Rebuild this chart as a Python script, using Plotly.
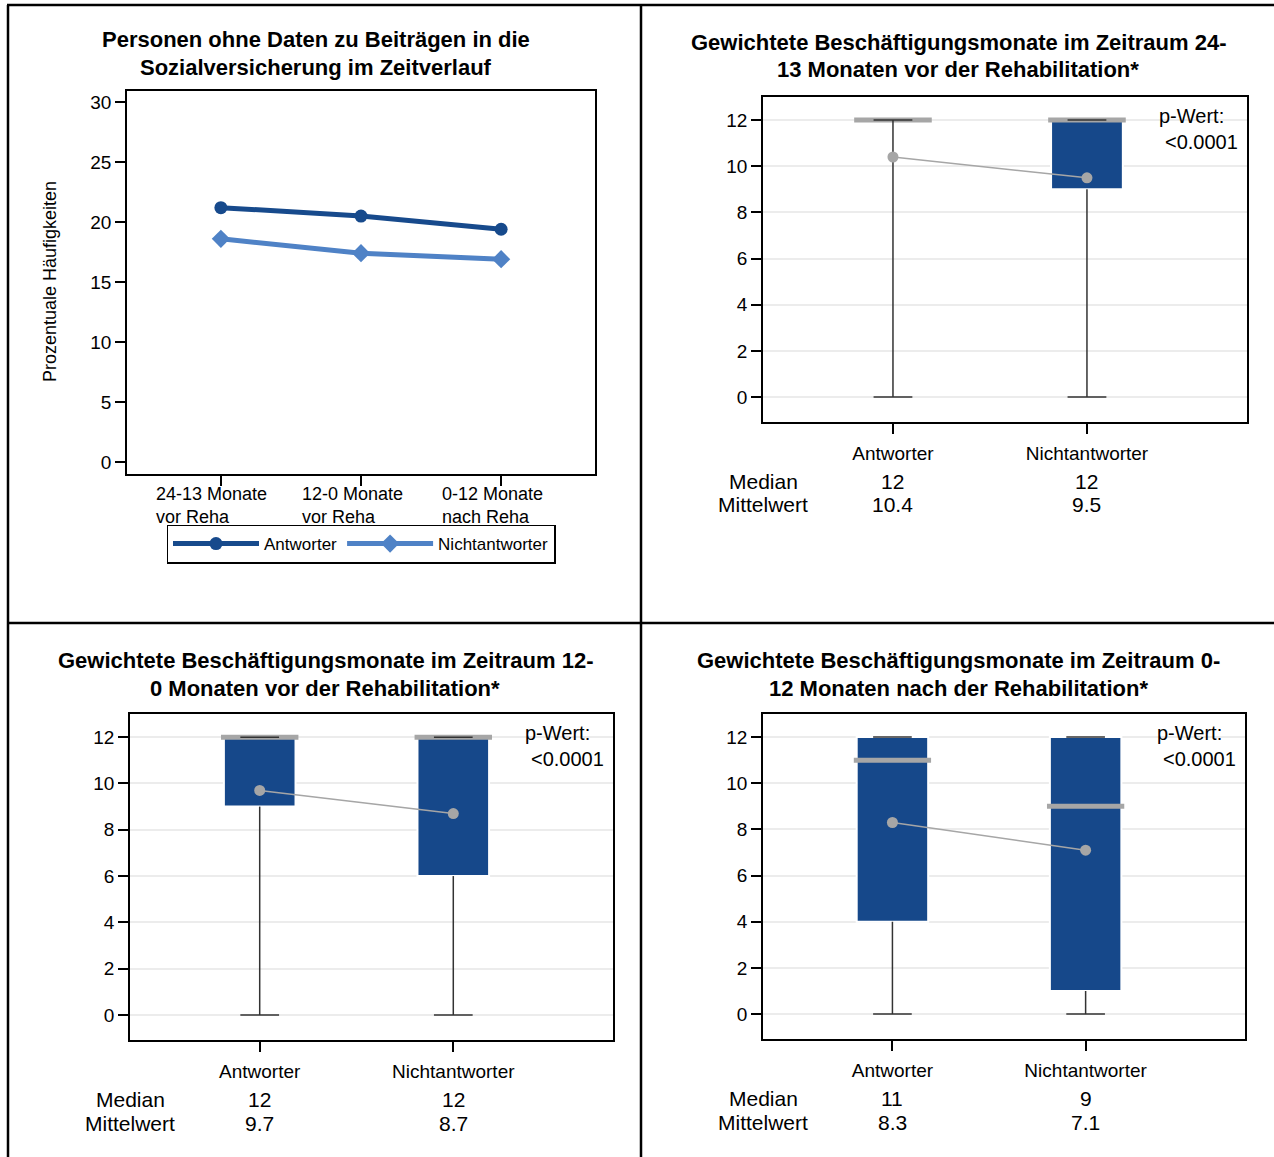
import plotly.graph_objects as go

W, H = 1274, 1157

# ---- line chart: share of persons without contribution data ----
zeitraum = ["24-13 Monate<br>vor Reha", "12-0 Monate<br>vor Reha", "0-12 Monate<br>nach Reha"]
antworter_pct = [21.2, 20.5, 19.4]
nichtantworter_pct = [18.6, 17.4, 16.9]
y_ticks_pct = [0, 5, 10, 15, 20, 25, 30]

# ---- box plots: weighted months of employment ----
gruppen = ["Antworter", "Nichtantworter"]
y_ticks_monate = [0, 2, 4, 6, 8, 10, 12]

# 24-13 months before rehabilitation
vor24_min = [0, 0]
vor24_q1 = [12, 9]
vor24_median = [12, 12]
vor24_q3 = [12, 12]
vor24_max = [12, 12]
vor24_mean = [10.4, 9.5]

# 12-0 months before rehabilitation
vor12_min = [0, 0]
vor12_q1 = [9, 6]
vor12_median = [12, 12]
vor12_q3 = [12, 12]
vor12_max = [12, 12]
vor12_mean = [9.7, 8.7]

# 0-12 months after rehabilitation
nach12_min = [0, 0]
nach12_q1 = [4, 1]
nach12_median = [11, 9]
nach12_q3 = [12, 12]
nach12_max = [12, 12]
nach12_mean = [8.3, 7.1]

p_werte = ["<0.0001", "<0.0001", "<0.0001"]

titel = [
    ["Personen ohne Daten zu Beiträgen in die", "Sozialversicherung im Zeitverlauf"],
    ["Gewichtete Beschäftigungsmonate im Zeitraum 24-", "13 Monaten vor der Rehabilitation*"],
    ["Gewichtete Beschäftigungsmonate im Zeitraum 12-", "0 Monaten vor der Rehabilitation*"],
    ["Gewichtete Beschäftigungsmonate im Zeitraum 0-", "12 Monaten nach der Rehabilitation*"],
]

FONT = "Liberation Sans, Arial, sans-serif"
DARK_BLUE = "#174a8c"
LIGHT_BLUE = "#4f82c6"
BOX_BLUE = "#16488a"
GREY = "#a6a6a6"
WHISKER = "#333333"


def px_x(p):
    return p / W


def px_y(p):
    return 1 - p / H


fig = go.Figure()

# ---------------- panel 1: line chart ----------------
fig.add_trace(go.Scatter(
    x=[0, 1, 2], y=antworter_pct, name="Antworter", mode="lines+markers",
    line=dict(color=DARK_BLUE, width=5), marker=dict(symbol="circle", size=13, color=DARK_BLUE),
    xaxis="x", yaxis="y", showlegend=True))
fig.add_trace(go.Scatter(
    x=[0, 1, 2], y=nichtantworter_pct, name="Nichtantworter", mode="lines+markers",
    line=dict(color=LIGHT_BLUE, width=5), marker=dict(symbol="diamond", size=14, color=LIGHT_BLUE),
    xaxis="x", yaxis="y", showlegend=True))

# ---------------- panels 2-4: box plots ----------------
box_panels = [
    ("x2", "y2", vor24_min, vor24_q1, vor24_median, vor24_q3, vor24_max, vor24_mean),
    ("x3", "y3", vor12_min, vor12_q1, vor12_median, vor12_q3, vor12_max, vor12_mean),
    ("x4", "y4", nach12_min, nach12_q1, nach12_median, nach12_q3, nach12_max, nach12_mean),
]
BOX_W = 0.37
MED_W = 0.40
CAP_W = 0.20

for xa, ya, mn, q1, med, q3, mx, mean in box_panels:
    pos = list(range(len(gruppen)))
    # box body (Q1..Q3)
    fig.add_trace(go.Bar(
        x=pos, base=q1, y=[b - a for a, b in zip(q1, q3)], width=BOX_W,
        marker=dict(color=BOX_BLUE, line=dict(color="white", width=2)),
        xaxis=xa, yaxis=ya, showlegend=False, hoverinfo="skip"))
    # median bar
    mx_x, mx_y = [], []
    for i, m in zip(pos, med):
        mx_x += [i - MED_W / 2, i + MED_W / 2, None]
        mx_y += [m, m, None]
    fig.add_trace(go.Scatter(
        x=mx_x, y=mx_y, mode="lines", line=dict(color=GREY, width=5),
        xaxis=xa, yaxis=ya, showlegend=False, hoverinfo="skip"))
    # whiskers and caps
    wx, wy = [], []
    for i, lo, a, b, hi in zip(pos, mn, q1, q3, mx):
        wx += [i, i, None, i, i, None]
        wy += [lo, a, None, b, hi, None]
        wx += [i - CAP_W / 2, i + CAP_W / 2, None, i - CAP_W / 2, i + CAP_W / 2, None]
        wy += [lo, lo, None, hi, hi, None]
    fig.add_trace(go.Scatter(
        x=wx, y=wy, mode="lines", line=dict(color=WHISKER, width=1.5),
        xaxis=xa, yaxis=ya, showlegend=False, hoverinfo="skip"))
    # means, connected
    fig.add_trace(go.Scatter(
        x=pos, y=mean, mode="lines+markers", line=dict(color=GREY, width=1.5),
        marker=dict(color=GREY, size=11),
        xaxis=xa, yaxis=ya, showlegend=False, hoverinfo="skip"))

# ---------------- axes ----------------
frame = dict(showline=True, mirror=True, linecolor="black", linewidth=1.5,
             ticks="outside", ticklen=10, tickcolor="black", tickwidth=1.5,
             zeroline=False, tickfont=dict(family=FONT, size=19, color="black"))

fig.update_layout(
    xaxis=dict(domain=[px_x(127), px_x(595)], range=[-0.67, 2.67], tickvals=[0, 1, 2],
               ticktext=["", "", ""], showgrid=False, anchor="y", **frame),
    yaxis=dict(domain=[px_y(474), px_y(91)], range=[-1, 30.92], tickvals=y_ticks_pct,
               showgrid=False, anchor="x", **frame),
)

box_domains = [
    ([763, 1247], [422, 97]),
    ([130, 613], [1040, 714]),
    ([763, 1245], [1039, 714]),
]
for k, (dx, dy) in enumerate(box_domains, start=2):
    xa_cfg = dict(domain=[px_x(dx[0]), px_x(dx[1])], range=[-0.67, 1.825], tickvals=[0, 1],
                  ticktext=gruppen, showgrid=False, anchor=f"y{k}", ticklabelstandoff=3, **frame)
    ya_cfg = dict(domain=[px_y(dy[0]), px_y(dy[1])], range=[-1.08, 13.0], tickvals=y_ticks_monate,
                  showgrid=True, gridcolor="#ececec", gridwidth=2, anchor=f"x{k}", **frame)
    fig.layout[f"xaxis{k}"] = xa_cfg
    fig.layout[f"yaxis{k}"] = ya_cfg

# ---------------- annotations ----------------
ann = []

# titles (two lines each)
title_pos = [(316, 40, 67), (958, 42, 70), (325, 660, 688), (958, 660, 688)]
for (cx, y1, y2), lines in zip(title_pos, titel):
    for yy, txt in zip((y1, y2), lines):
        ann.append(dict(text=f"<b>{txt}</b>", x=px_x(cx), y=px_y(yy), xref="paper", yref="paper",
                        xanchor="center", yanchor="middle", showarrow=False,
                        font=dict(family=FONT, size=22, color="black")))

# panel 1 category labels and y-axis title
for i, lab in enumerate(zeitraum):
    ann.append(dict(text=lab, x=i, xref="x", y=px_y(482), yref="paper", xanchor="center",
                    yanchor="top", align="left", xshift=-9, showarrow=False,
                    font=dict(family=FONT, size=18, color="black")))
ann.append(dict(text="Prozentuale Häufigkeiten", x=px_x(50), y=px_y(282), xref="paper", yref="paper",
                textangle=-90, xanchor="center", yanchor="middle", showarrow=False,
                font=dict(family=FONT, size=18, color="black")))

# statistics rows and p-values below / inside the box plots
stat_sets = [(vor24_median, vor24_mean), (vor12_median, vor12_mean), (nach12_median, nach12_mean)]
for k, ((dx, dy), (meds, means), pw) in enumerate(zip(box_domains, stat_sets, p_werte), start=2):
    bottom = dy[0]
    top = dy[1]
    row1 = px_y(bottom + 59)
    row2 = px_y(bottom + 83)
    for txt, yy in (("Median", row1), ("Mittelwert", row2)):
        ann.append(dict(text=txt, x=0, xref=f"x{k} domain", y=yy, yref="paper", xanchor="center",
                        yanchor="middle", showarrow=False, font=dict(family=FONT, size=21, color="black")))
    for i, (m, mu) in enumerate(zip(meds, means)):
        ann.append(dict(text=f"{m:g}", x=i, xref=f"x{k}", y=row1, yref="paper", xanchor="center",
                        yanchor="middle", showarrow=False, font=dict(family=FONT, size=21, color="black")))
        ann.append(dict(text=f"{mu:.1f}", x=i, xref=f"x{k}", y=row2, yref="paper", xanchor="center",
                        yanchor="middle", showarrow=False, font=dict(family=FONT, size=21, color="black")))
    ann.append(dict(text="p-Wert:", x=px_x(dx[1] - 90), y=px_y(top + 19), xref="paper", yref="paper",
                    xanchor="left", yanchor="middle", showarrow=False,
                    font=dict(family=FONT, size=20, color="black")))
    ann.append(dict(text=pw, x=px_x(dx[1] - 84), y=px_y(top + 45), xref="paper", yref="paper",
                    xanchor="left", yanchor="middle", showarrow=False,
                    font=dict(family=FONT, size=20, color="black")))

# ---------------- panel frame lines ----------------
shapes = []
for x0, y0, x1, y1 in [(7, 5, W, 5), (8, 5, 8, H), (641, 5, 641, H), (8, 623, W, 623)]:
    shapes.append(dict(type="line", xref="paper", yref="paper", x0=px_x(x0), y0=px_y(y0),
                       x1=px_x(x1), y1=px_y(y1), line=dict(color="black", width=2.5)))

fig.update_layout(
    width=W, height=H, margin=dict(l=0, r=0, t=0, b=0),
    paper_bgcolor="white", plot_bgcolor="white",
    annotations=ann, shapes=shapes, barmode="overlay",
    legend=dict(orientation="h", x=px_x(361), xanchor="center", y=px_y(544), yanchor="middle",
                bordercolor="black", borderwidth=1.5, bgcolor="white", itemwidth=86,
                font=dict(family=FONT, size=17, color="black"), tracegroupgap=0),
    font=dict(family=FONT, color="black"),
)

fig.write_html("out.html")
